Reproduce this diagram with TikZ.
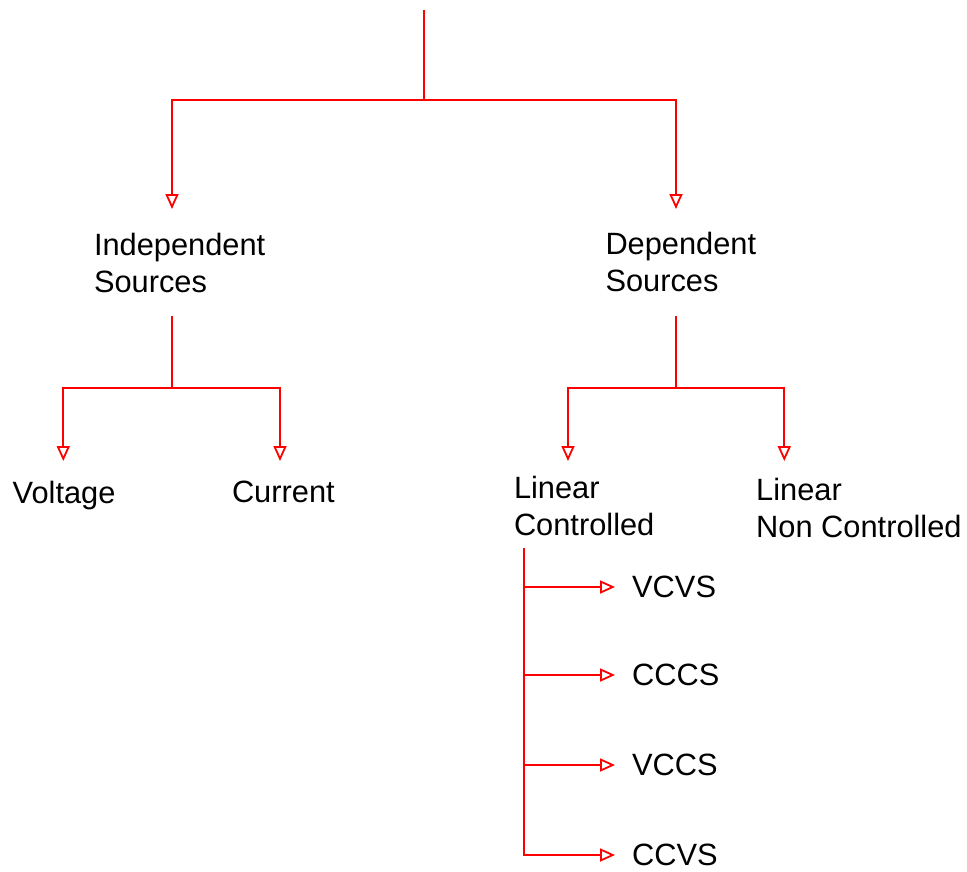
\documentclass[tikz,border=0pt]{standalone}
\usepackage{fontspec}
\setmainfont{Liberation Sans}
\usetikzlibrary{arrows.meta}

\begin{document}
\begin{tikzpicture}[x=1pt,y=-1pt,
    wire/.style={draw=red,line width=1.8pt},
    link/.style={wire,-{Triangle[open,length=15pt,width=13pt]}},
    label/.style={font=\fontsize{30.8}{36.8}\selectfont,align=left,inner sep=0pt,anchor=base west},
    leaf/.style={font=\fontsize{30.8}{36.8}\selectfont,inner sep=0pt,anchor=west}]
        \useasboundingbox (0,0) rectangle (967,871);

        \node[label] (Indep) at (93.8, 292.7) {Independent\\Sources};
        \node[label] (Dep) at (605.3, 291.7) {Dependent\\Sources};
        \node[label] (Voltage) at (12.5, 503.3) {Voltage};
        \node[label] (Current) at (231.8, 502.7) {Current};
        \node[label] (LinCon) at (513.8, 535) {Linear\\Controlled};
        \node[label] (LinNon) at (756, 537.3) {Linear\\Non Controlled};
        \node[leaf] (VCVS) at (632, 587) {VCVS};
        \node[leaf] (CCCS) at (632, 675) {CCCS};
        \node[leaf] (VCCS) at (632, 765) {VCCS};
        \node[leaf] (CCVS) at (632, 855) {CCVS};

        % branch points
        \coordinate (Root) at (424, 10);
        \coordinate (RootSplit) at (424, 100);
        \coordinate (IndepIn) at (172, 209);
        \coordinate (DepIn) at (676, 209);
        \coordinate (IndepOut) at (172, 316);
        \coordinate (IndepSplit) at (172, 388);
        \coordinate (DepOut) at (676, 316);
        \coordinate (DepSplit) at (676, 388);
        \coordinate (VoltageIn) at (63.3, 461);
        \coordinate (CurrentIn) at (280, 461);
        \coordinate (LinConIn) at (568, 461);
        \coordinate (LinNonIn) at (784.3, 461);
        \coordinate (LinConOut) at (524, 548);

        \draw[link] (Root) -- (RootSplit) -| (IndepIn);
        \draw[link] (RootSplit) -| (DepIn);
        \draw[link] (IndepOut) -- (IndepSplit) -| (VoltageIn);
        \draw[link] (IndepSplit) -| (CurrentIn);
        \draw[link] (DepOut) -- (DepSplit) -| (LinConIn);
        \draw[link] (DepSplit) -| (LinNonIn);

        \draw[link,shorten >=17pt] (LinConOut) |- (CCVS);
        \draw[link,shorten >=17pt] (LinConOut |- VCVS) -- (VCVS);
        \draw[link,shorten >=17pt] (LinConOut |- CCCS) -- (CCCS);
        \draw[link,shorten >=17pt] (LinConOut |- VCCS) -- (VCCS);
    \end{tikzpicture}
\end{document}
